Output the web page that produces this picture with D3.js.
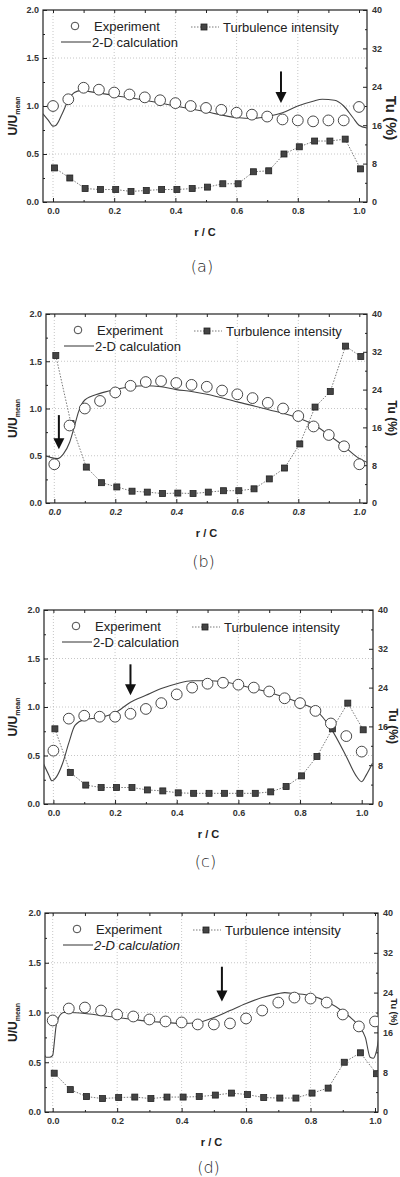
<!DOCTYPE html>
<html>
<head>
<meta charset="utf-8">
<script src="https://cdn.jsdelivr.net/npm/d3@7"></script>
<style>
body { margin: 0; background: #fff; }
text { font-family: "Liberation Sans", Arial, sans-serif; }
</style>
</head>
<body>
<div id="chart"></div>
<script>
// measuring stations r/C
var rc = [0.0, 0.05, 0.10, 0.15, 0.20, 0.25, 0.30, 0.35, 0.40, 0.45, 0.50,
          0.55, 0.60, 0.65, 0.70, 0.75, 0.80, 0.85, 0.90, 0.95, 1.0];

// (a)
var expA = [1.00, 1.07, 1.19, 1.17, 1.14, 1.12, 1.09, 1.06, 1.03, 1.00, 0.98,
            0.96, 0.93, 0.91, 0.89, 0.86, 0.85, 0.84, 0.85, 0.85, 0.99];
var tuA  = [7.1, 5.0, 2.8, 2.6, 2.6, 2.2, 2.4, 2.6, 2.6, 2.8, 3.1,
            3.8, 3.8, 6.3, 6.5, 10.0, 11.5, 12.7, 12.7, 13.1, 6.9];
var calcXA = [-0.033, -0.015, 0.0, 0.01, 0.03, 0.05, 0.07, 0.09, 0.12, 0.2, 0.3, 0.4, 0.5,
              0.6, 0.65, 0.7, 0.75, 0.8, 0.85, 0.88, 0.92, 0.95, 0.98, 1.0, 1.026];
var calcYA = [0.92, 0.85, 0.79, 0.80, 0.92, 1.06, 1.14, 1.16, 1.15, 1.11, 1.06, 1.00, 0.94,
              0.88, 0.87, 0.89, 0.93, 1.00, 1.05, 1.07, 1.06, 1.00, 0.88, 0.80, 0.77];

// (b)
var expB = [0.41, 0.82, 1.00, 1.08, 1.17, 1.24, 1.28, 1.29, 1.27, 1.25, 1.23,
            1.19, 1.15, 1.11, 1.06, 1.00, 0.92, 0.81, 0.72, 0.60, 0.41];
var tuB  = [31.2, 16.8, 7.6, 4.3, 3.4, 2.5, 2.3, 2.0, 2.1, 2.0, 2.3,
            2.6, 2.6, 3.0, 5.1, 7.4, 12.5, 20.3, 23.6, 33.2, 31.0];
var calcXB = [-0.03, -0.01, 0.01, 0.03, 0.05, 0.065, 0.08, 0.1, 0.15, 0.2, 0.25, 0.3,
              0.35, 0.4, 0.45, 0.5, 0.6, 0.7, 0.8, 0.85, 0.9, 0.95, 1.0, 1.026];
var calcYB = [0.50, 0.48, 0.47, 0.52, 0.64, 0.80, 0.97, 1.09, 1.16, 1.20, 1.23, 1.24,
              1.23, 1.20, 1.18, 1.15, 1.07, 0.99, 0.90, 0.83, 0.72, 0.60, 0.47, 0.43];

// (c)
var expC = [0.55, 0.88, 0.91, 0.90, 0.90, 0.93, 0.98, 1.04, 1.13, 1.20, 1.24,
            1.25, 1.23, 1.20, 1.16, 1.09, 1.04, 0.96, 0.83, 0.70, 0.54];
var tuC  = [15.5, 6.5, 3.9, 3.4, 3.4, 3.4, 2.9, 2.7, 2.3, 2.2, 2.2,
            2.2, 2.2, 2.2, 2.5, 3.6, 5.8, 9.8, 15.5, 20.8, 15.3];
var calcXC = [-0.033, -0.015, -0.005, 0.01, 0.03, 0.05, 0.07, 0.1, 0.15, 0.2, 0.25, 0.3,
              0.35, 0.4, 0.45, 0.5, 0.55, 0.6, 0.65, 0.7, 0.75, 0.8, 0.85, 0.9, 0.95,
              0.98, 1.0, 1.015, 1.035];
var calcYC = [0.42, 0.30, 0.24, 0.28, 0.42, 0.63, 0.81, 0.87, 0.89, 0.94, 1.05, 1.12,
              1.19, 1.24, 1.27, 1.27, 1.26, 1.23, 1.19, 1.15, 1.10, 1.04, 0.97, 0.78, 0.49,
              0.30, 0.23, 0.30, 0.42];

// (d)
var expD = [0.92, 1.04, 1.05, 1.02, 0.98, 0.96, 0.93, 0.91, 0.90, 0.88, 0.88,
            0.89, 0.94, 1.02, 1.10, 1.15, 1.14, 1.10, 0.98, 0.86, 0.91];
var tuD  = [7.8, 4.5, 3.1, 2.7, 2.9, 3.0, 2.7, 3.0, 3.0, 3.1, 3.4,
            3.8, 3.5, 2.9, 2.8, 2.8, 3.8, 4.8, 10.0, 11.9, 7.7];
var calcXD = [-0.03, -0.02, -0.01, 0.0, 0.005, 0.01, 0.02, 0.035, 0.05, 0.1, 0.15, 0.2,
              0.25, 0.3, 0.35, 0.4, 0.45, 0.5, 0.55, 0.6, 0.65, 0.7, 0.72, 0.75, 0.8,
              0.85, 0.9, 0.95, 0.97, 0.985, 0.995, 1.005, 1.015, 1.026];
var calcYD = [0.62, 0.55, 0.55, 0.57, 0.70, 0.85, 0.96, 1.00, 1.00, 0.99, 0.97, 0.95,
              0.93, 0.91, 0.90, 0.89, 0.90, 0.95, 1.02, 1.09, 1.15, 1.19, 1.20, 1.19, 1.17,
              1.11, 1.01, 0.86, 0.75, 0.55, 0.54, 0.62, 0.80, 0.90];

// arrows (r/C, from, to) in U/Umean units
var arrowX    = [0.745, 0.015, 0.25, 0.525];
var arrowFrom = [1.36, 0.93, 1.44, 1.46];
var arrowTo   = [1.03, 0.57, 1.12, 1.11];

// axes ticks
var xTicks = [0.0, 0.2, 0.4, 0.6, 0.8, 1.0];
var xMinor = [0.1, 0.3, 0.5, 0.7, 0.9];
var yTicks = [0.0, 0.5, 1.0, 1.5, 2.0];
var yMinor = [0.25, 0.75, 1.25, 1.75];
var tuTicks = [0, 8, 16, 24, 32, 40];
var tuMinor = [4, 12, 20, 28, 36];
var panelNames = ["(a)", "(b)", "(c)", "(d)"];

// layout of the four panels (frame, pixel of r/C = 0 and 1, right title, panel label)
var panels = [
	{ exp: expA, tu: tuA, cx: calcXA, cy: calcYA, l: 43, r: 367, t: 10,  b: 202,  x0: 53,   x1: 359,
	  rl: 386, rs: 15, ry: 118,  ly: 272,  italicCalc: false, italicX: false },
	{ exp: expB, tu: tuB, cx: calcXB, cy: calcYB, l: 46, r: 367, t: 314, b: 503,  x0: 54.3, x1: 359.3,
	  rl: 388, rs: 12, ry: 418,  ly: 567,  italicCalc: false, italicX: true },
	{ exp: expC, tu: tuC, cx: calcXC, cy: calcYC, l: 44, r: 373, t: 610, b: 804,  x0: 53.4, x1: 361.7,
	  rl: 389, rs: 12, ry: 726,  ly: 867,  italicCalc: false, italicX: false },
	{ exp: expD, tu: tuD, cx: calcXD, cy: calcYD, l: 45, r: 378, t: 913, b: 1112, x0: 52.7, x1: 375,
	  rl: 391, rs: 9,  ry: 1012, ly: 1173, italicCalc: true,  italicX: false }
];

var svg = d3.select("#chart").append("svg")
	.attr("width", 400)
	.attr("height", 1177)
	.style("background", "#fff");

var defs = svg.append("defs");

panels.forEach(function(p, i) { draw_panel(p, i); });

/**
 * draw one panel
 */
function draw_panel(p, i){

	var x = d3.scaleLinear().domain([0, 1]).range([p.x0, p.x1]);
	var y = d3.scaleLinear().domain([0, 2]).range([p.b, p.t]);
	var tu = d3.scaleLinear().domain([0, 40]).range([p.b, p.t]);

	var g = svg.append("g");

	defs.append("clipPath").attr("id", "clip" + i)
	.append("rect")
	.attr("x", p.l).attr("y", p.t)
	.attr("width", p.r - p.l).attr("height", p.b - p.t);

	// grid
	g.selectAll(".gx")
	.data(xTicks.slice(0, 5))
	.enter().append("line")
	.attr("x1", function(d) { return x(d); })
	.attr("x2", function(d) { return x(d); })
	.attr("y1", p.t).attr("y2", p.b)
	.style("stroke", "#b8b8b8")
	.style("stroke-width", 0.8)
	.style("stroke-dasharray", "1,2");

	g.selectAll(".gy")
	.data(yTicks.slice(1, 4))
	.enter().append("line")
	.attr("x1", p.l).attr("x2", p.r)
	.attr("y1", function(d) { return y(d); })
	.attr("y2", function(d) { return y(d); })
	.style("stroke", "#b8b8b8")
	.style("stroke-width", 0.8)
	.style("stroke-dasharray", "1,2");

	// axes
	var bottom = g.append("g").attr("transform", "translate(0," + p.b + ")")
	.call(d3.axisBottom(x).tickValues(xTicks).tickFormat(d3.format(".1f"))
		.tickSizeInner(-4).tickSizeOuter(0).tickPadding(6));
	g.append("g").attr("transform", "translate(0," + p.b + ")")
	.call(d3.axisBottom(x).tickValues(xMinor).tickFormat("").tickSizeInner(-2).tickSizeOuter(0));
	g.append("g").attr("transform", "translate(0," + p.t + ")")
	.call(d3.axisTop(x).tickValues(xTicks.concat(xMinor)).tickFormat("").tickSizeInner(-3).tickSizeOuter(0));

	g.append("g").attr("transform", "translate(" + p.l + ",0)")
	.call(d3.axisLeft(y).tickValues(yTicks).tickFormat(d3.format(".1f"))
		.tickSizeInner(-4).tickSizeOuter(0).tickPadding(4));
	g.append("g").attr("transform", "translate(" + p.l + ",0)")
	.call(d3.axisLeft(y).tickValues(yMinor).tickFormat("").tickSizeInner(-2).tickSizeOuter(0));

	g.append("g").attr("transform", "translate(" + p.r + ",0)")
	.call(d3.axisRight(tu).tickValues(tuTicks).tickFormat(d3.format("d"))
		.tickSizeInner(-4).tickSizeOuter(0).tickPadding(5));
	g.append("g").attr("transform", "translate(" + p.r + ",0)")
	.call(d3.axisRight(tu).tickValues(tuMinor).tickFormat("").tickSizeInner(-2).tickSizeOuter(0));

	g.selectAll(".domain").remove();
	g.selectAll(".tick line").style("stroke", "#222").style("stroke-width", 1);
	g.selectAll(".tick text")
	.style("font-size", "9px")
	.style("font-weight", "bold")
	.style("fill", "#333");
	if (p.italicX) {
		bottom.selectAll("text").style("font-style", "italic");
	}

	// frame
	g.append("rect")
	.attr("x", p.l).attr("y", p.t)
	.attr("width", p.r - p.l).attr("height", p.b - p.t)
	.style("fill", "none")
	.style("stroke", "#222")
	.style("stroke-width", 1.2);

	var plot = g.append("g").attr("clip-path", "url(#clip" + i + ")");

	// 2-D calculation
	var calc = p.cx.map(function(d, k) { return [d, p.cy[k]]; });
	plot.append("path")
	.datum(calc)
	.attr("d", d3.line()
		.x(function(d) { return x(d[0]); })
		.y(function(d) { return y(d[1]); })
		.curve(d3.curveMonotoneX))
	.style("fill", "none")
	.style("stroke", "#444")
	.style("stroke-width", 1.1);

	// turbulence intensity
	plot.append("path")
	.datum(p.tu)
	.attr("d", d3.line()
		.x(function(d, k) { return x(rc[k]) + 1.5; })
		.y(function(d) { return tu(d); }))
	.style("fill", "none")
	.style("stroke", "#555")
	.style("stroke-width", 0.8)
	.style("stroke-dasharray", "1.5,1.5");

	plot.selectAll(".sq")
	.data(p.tu)
	.enter().append("rect")
	.attr("x", function(d, k) { return x(rc[k]) + 1.5 - 3; })
	.attr("y", function(d) { return tu(d) - 3; })
	.attr("width", 6)
	.attr("height", 6)
	.style("fill", "#444")
	.style("stroke", "#222")
	.style("stroke-width", 0.8);

	// experiment
	plot.selectAll(".exp")
	.data(p.exp)
	.enter().append("circle")
	.attr("cx", function(d, k) { return x(rc[k]); })
	.attr("cy", function(d) { return y(d); })
	.attr("r", 5.4)
	.style("fill", "#fff")
	.style("stroke", "#333")
	.style("stroke-width", 0.9);

	// arrow
	var ax = x(arrowX[i]), ay0 = y(arrowFrom[i]), ay1 = y(arrowTo[i]);
	g.append("line")
	.attr("x1", ax).attr("x2", ax)
	.attr("y1", ay0).attr("y2", ay1 - 8)
	.style("stroke", "#111")
	.style("stroke-width", 2);
	g.append("path")
	.attr("d", "M" + (ax - 5.5) + "," + (ay1 - 11) + "L" + (ax + 5.5) + "," + (ay1 - 11) + "L" + ax + "," + ay1 + "Z")
	.style("fill", "#111");

	// legend
	var lg = g.append("g").attr("transform", "translate(" + p.l + "," + p.t + ")");
	lg.append("circle").attr("cx", 32).attr("cy", 16).attr("r", 3.8)
	.style("fill", "#fff").style("stroke", "#333").style("stroke-width", 0.9);
	lg.append("text").attr("x", 51).attr("y", 21).text("Experiment")
	.style("font-size", "13px").style("fill", "#222");
	lg.append("line").attr("x1", 18).attr("x2", 48).attr("y1", 32).attr("y2", 32)
	.style("stroke", "#444").style("stroke-width", 1.1);
	lg.append("text").attr("x", 49).attr("y", 36.5).text("2-D calculation")
	.style("font-size", "13px").style("fill", "#222")
	.style("font-style", p.italicCalc ? "italic" : "normal");
	lg.append("line").attr("x1", 148).attr("x2", 176).attr("y1", 17).attr("y2", 17)
	.style("stroke", "#555").style("stroke-width", 0.8).style("stroke-dasharray", "1.5,1.5");
	lg.append("rect").attr("x", 158).attr("y", 14).attr("width", 6).attr("height", 6)
	.style("fill", "#444").style("stroke", "#222").style("stroke-width", 0.8);
	lg.append("text").attr("x", 180).attr("y", 22).text("Turbulence intensity")
	.style("font-size", "13px").style("fill", "#222");

	// axis titles
	var my = (p.t + p.b) / 2;
	var yl = g.append("text")
	.attr("transform", "translate(17," + (my + 10) + ") rotate(-90)")
	.style("font-size", "12px")
	.style("font-weight", "bold")
	.style("fill", "#222")
	.style("text-anchor", "middle");
	yl.append("tspan").text("U/U");
	yl.append("tspan").text("mean")
	.style("font-size", "7px")
	.attr("dy", 3);

	g.append("text")
	.attr("transform", "translate(" + p.rl + "," + p.ry + ") rotate(90)")
	.style("font-size", p.rs + "px")
	.style("font-weight", "bold")
	.style("fill", "#222")
	.style("text-anchor", "middle")
	.text("Tu (%)");

	g.append("text")
	.attr("x", (p.l + p.r) / 2)
	.attr("y", p.b + 34)
	.style("font-size", "11px")
	.style("font-weight", "bold")
	.style("fill", "#222")
	.style("text-anchor", "middle")
	.text("r / C");

	g.append("text")
	.attr("x", (p.l + p.r) / 2 - 3)
	.attr("y", p.ly)
	.style("font-size", "16px")
	.style("font-family", "'DejaVu Sans', sans-serif")
	.style("font-weight", "200")
	.style("fill", "#222")
	.style("text-anchor", "middle")
	.text(panelNames[i]);
}
</script>
</body>
</html>
